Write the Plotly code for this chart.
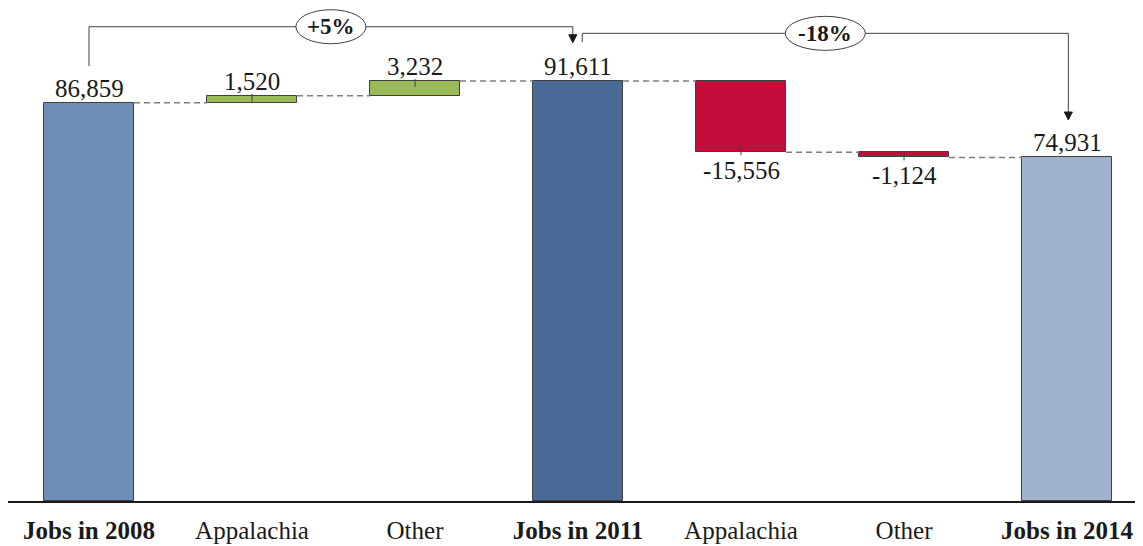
import plotly.graph_objects as go

categories = ["Jobs in 2008", "Appalachia", "Other", "Jobs in 2011", "Appalachia", "Other", "Jobs in 2014"]
values = [86859, 1520, 3232, 91611, -15556, -1124, 74931]
kinds = ["total", "delta", "delta", "total", "delta", "delta", "total"]
total_colors = ["#6E8EBA", "#4A6A98", "#A0B2CE"]
up_color = "#9BBB59"
down_color = "#C20C3A"

FONT = "Liberation Serif"
W, H = 1135, 538
ML, MR, MT, MB = 0, 0, 0, 45
plot_h = H - MT - MB
plot_w = W - ML - MR
ymax = max(values) * 1.1736
upx = ymax / plot_h  # data units per pixel (y)
xr = [-0.497, 6.466]
xpx = (xr[1] - xr[0]) / plot_w  # category units per pixel
half = 0.276

# compute bars
bases, heights, colors, ends_top, ends_bot = [], [], [], [], []
level = 0
ti = 0
levels_after = []
for v, k in zip(values, kinds):
    if k == "total":
        bases.append(0); heights.append(v); colors.append(total_colors[ti]); ti += 1
        level = v
        ends_top.append(v); ends_bot.append(0)
    else:
        if v >= 0:
            bases.append(level); heights.append(v); colors.append(up_color)
            ends_top.append(level + v); ends_bot.append(level)
        else:
            bases.append(level + v); heights.append(-v); colors.append(down_color)
            ends_top.append(level); ends_bot.append(level + v)
        level += v
    levels_after.append(level)

xs = list(range(len(values)))
fig = go.Figure()
fig.add_trace(go.Bar(
    x=xs, y=heights, base=bases, width=2 * half,
    marker=dict(color=colors, line=dict(color="#404040", width=1)),
    hoverinfo="skip", showlegend=False,
))

shapes = []
annotations = []
# connectors
for i in range(len(values) - 1):
    shapes.append(dict(type="line", xref="x", yref="y",
                       x0=i + half, x1=i + 1 - half,
                       y0=levels_after[i], y1=levels_after[i],
                       line=dict(color="#7F7F7F", width=1.5, dash="6px,4px")))

# value labels + leader ticks
for i, (v, k) in enumerate(zip(values, kinds)):
    txt = f"{v:,}"
    if k == "total" or v >= 0:
        annotations.append(dict(x=i, y=ends_top[i], xref="x", yref="y", text=txt,
                                showarrow=False, yanchor="bottom", yshift=-1,
                                font=dict(family=FONT, size=25, color="#1a1a1a")))
        if k == "delta":
            inner = min(6 * upx, heights[i])
            shapes.append(dict(type="line", xref="x", yref="y", x0=i, x1=i,
                               y0=ends_top[i] + 2 * upx, y1=ends_top[i] - inner,
                               line=dict(color="#404040", width=1)))
    else:
        annotations.append(dict(x=i, y=ends_bot[i], xref="x", yref="y", text=txt,
                                showarrow=False, yanchor="top", yshift=-3,
                                font=dict(family=FONT, size=25, color="#1a1a1a")))
        inner = min(6 * upx, heights[i])
        shapes.append(dict(type="line", xref="x", yref="y", x0=i, x1=i,
                           y0=ends_bot[i] - 3 * upx, y1=ends_bot[i] + inner,
                           line=dict(color="#404040", width=1)))

# brackets with % change
tot_idx = [i for i, k in enumerate(kinds) if k == "total"]
bracket_cfg = [
    dict(a=tot_idx[0], b=tot_idx[1], start_px=36.7, top_ref=1, top_px=54.2, tip_px=38.2, xa=0.0, xb=-0.032),
    dict(a=tot_idx[1], b=tot_idx[2], start_px=38.9, top_ref=1, top_px=47.6, tip_px=37.4, xa=0.026, xb=0.008),
]
for cfg in bracket_cfg:
    a, b = cfg["a"], cfg["b"]
    va, vb = values[a], values[b]
    y_start = va + cfg["start_px"] * upx
    ref_val = values[tot_idx[cfg["top_ref"]]]
    y_top = ref_val + cfg["top_px"] * upx
    y_tip = vb + cfg["tip_px"] * upx
    xa = a + cfg["xa"]
    xb = b + cfg["xb"]
    line = dict(color="#404040", width=1)
    shapes.append(dict(type="path", xref="x", yref="y",
                       path=f"M {xa},{y_start} L {xa},{y_top} L {xb},{y_top} L {xb},{y_tip + 7 * upx}",
                       line=line))
    # arrowhead
    shapes.append(dict(type="path", xref="x", yref="y",
                       path=(f"M {xb - 4 * xpx},{y_tip + 8 * upx} L {xb + 4 * xpx},{y_tip + 8 * upx} "
                             f"L {xb},{y_tip} Z"),
                       fillcolor="#1a1a1a", line=dict(color="#1a1a1a", width=1)))
    # ellipse
    pct = (vb / va - 1) * 100
    label = f"{pct:+.0f}%"
    xm = (xa + xb) / 2
    ew = 70 if len(label) <= 3 else 80
    eh = 34
    shapes.append(dict(type="circle", xref="x", yref="y",
                       x0=xm - ew / 2 * xpx, x1=xm + ew / 2 * xpx,
                       y0=y_top - eh / 2 * upx, y1=y_top + eh / 2 * upx,
                       fillcolor="white", line=dict(color="#404040", width=1)))
    annotations.append(dict(x=xm, y=y_top, xref="x", yref="y", text=f"<b>{label}</b>",
                            showarrow=False, font=dict(family=FONT, size=23, color="#1a1a1a")))

ticktext = [f"<b>{c}</b>" if k == "total" else c for c, k in zip(categories, kinds)]

fig.update_layout(
    width=W, height=H,
    margin=dict(l=ML, r=MR, t=MT, b=MB, pad=0),
    paper_bgcolor="white", plot_bgcolor="white",
    shapes=shapes, annotations=annotations,
    bargap=0,
    xaxis=dict(range=xr, tickvals=xs, ticktext=ticktext, showgrid=False, zeroline=False,
               showline=True, linecolor="#1a1a1a", linewidth=1.5, ticks="",
               ticklabelstandoff=6,
               tickfont=dict(family=FONT, size=25, color="#1a1a1a"), fixedrange=True),
    yaxis=dict(range=[0, ymax], showgrid=False, zeroline=False, showticklabels=False,
               showline=False, fixedrange=True),
)
fig.write_html("out.html")
